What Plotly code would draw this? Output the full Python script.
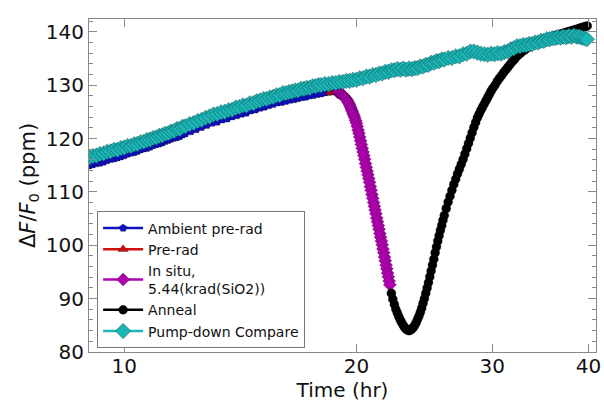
import plotly.graph_objects as go
import math

# ---------------- data ----------------
blue_t = [9.0, 9.1, 9.2, 9.3, 9.4, 9.5, 9.6, 9.7, 9.8, 9.9, 10.0, 10.1, 10.2, 10.3, 10.4, 10.5,
          10.6, 10.7, 10.8, 10.9, 11.0, 11.1, 11.2, 11.3, 11.4, 11.5, 11.6, 11.7, 11.8, 11.9, 12.0,
          12.2, 12.4, 12.6, 12.8, 13.0, 13.2, 13.4, 13.6, 13.8, 14.0, 14.2, 14.4, 14.6,
          14.8, 15.0, 15.2, 15.4, 15.6, 15.8, 16.0, 16.2, 16.4, 16.6, 16.8, 17.0, 17.2, 17.4,
          17.6, 17.8, 18.0, 18.2, 18.4]
blue_v = [114.9, 115.1, 115.3, 115.4, 115.6, 115.9, 116.1, 116.2, 116.4, 116.6, 116.8, 117.1,
          117.3, 117.4, 117.6, 117.9, 118.1, 118.2, 118.4, 118.7, 118.9, 119.0, 119.2, 119.5,
          119.7, 119.9, 120.1, 120.2, 120.4, 120.7, 120.9,
          121.3, 121.7, 122.1, 122.5, 122.9, 123.1, 123.5, 123.7,
          124.1, 124.3, 124.6, 124.8, 125.2, 125.4, 125.7, 125.9, 126.2, 126.4, 126.7, 126.8,
          127.0, 127.2, 127.3, 127.5, 127.7, 127.8, 128.0, 128.1, 128.3, 128.4, 128.6, 128.7]

red_t = [18.5, 18.6, 18.7, 18.8, 18.9]
red_v = [128.6, 128.7, 128.6, 128.7, 128.7]

mag_t = [18.90, 18.95, 19.00, 19.05, 19.10, 19.15, 19.20, 19.25, 19.30, 19.35, 19.40, 19.45,
         19.50, 19.55, 19.60, 19.65, 19.70, 19.75, 19.80, 19.85, 19.90, 19.95, 20.00, 20.05,
         20.10, 20.15, 20.20, 20.25, 20.30, 20.35, 20.40, 20.45, 20.50, 20.55, 20.60, 20.65,
         20.70, 20.75, 20.80, 20.85, 20.90, 20.95, 21.00, 21.05, 21.10, 21.15, 21.20, 21.25,
         21.30, 21.35, 21.40, 21.45, 21.50, 21.55, 21.60, 21.65, 21.70, 21.75, 21.80, 21.85,
         21.90, 21.95, 22.00, 22.05, 22.10]
mag_v = [128.7, 128.7, 128.6, 128.5, 128.4, 128.3, 128.1, 128.0, 127.8, 127.6, 127.4, 127.2,
         126.9, 126.6, 126.3, 125.9, 125.5, 125.1, 124.7, 124.3, 123.9, 123.4, 122.9, 122.3,
         121.6, 121.0, 120.3, 119.6, 118.9, 118.2, 117.5, 116.8, 116.1, 115.3, 114.6, 113.9,
         113.2, 112.5, 111.8, 111.0, 110.3, 109.5, 108.8, 108.0, 107.3, 106.6, 105.9, 105.1,
         104.4, 103.7, 103.0, 102.2, 101.5, 100.8, 100.1, 99.3, 98.6, 97.8, 97.1, 96.3,
         95.6, 94.8, 94.1, 93.3, 92.6]

black_t = [22.2, 22.3, 22.4, 22.5, 22.6, 22.7, 22.8, 22.9, 23.0, 23.1, 23.2, 23.3, 23.4, 23.5,
           23.6, 23.7, 23.8, 23.9, 24.0, 24.1, 24.2, 24.3, 24.4, 24.5, 24.6, 24.7, 24.8, 24.9,
           25.0, 25.1, 25.2, 25.3, 25.4, 25.5, 25.6, 25.7, 25.8, 25.9, 26.0,
           26.15, 26.3, 26.45, 26.6, 26.75, 26.9, 27.05, 27.2, 27.35, 27.5, 27.65, 27.8, 27.95,
           28.1, 28.25, 28.4, 28.55, 28.7, 28.85, 29.0, 29.15, 29.3, 29.45, 29.6, 29.75, 29.9,
           30.05,
           30.25, 30.45, 30.65, 30.85, 31.05, 31.25, 31.45, 31.65, 31.85, 32.05, 32.25, 32.45,
           32.65, 32.85, 33.05, 33.25, 33.45, 33.65, 33.85, 34.05, 34.25, 34.45, 34.65, 34.85,
           35.05, 35.25, 35.45, 35.65, 35.85, 36.05, 36.25, 36.45, 36.65, 36.85, 37.05, 37.25,
           37.45, 37.65, 37.85, 38.05, 38.25, 38.45, 38.65, 38.85, 39.05, 39.25, 39.45, 39.65,
           39.85]
black_v = [91.0, 89.9, 88.9, 88.0, 87.3, 86.6, 86.0, 85.5, 85.0, 84.6, 84.3, 84.1, 84.0, 84.1,
           84.3, 84.6, 85.0, 85.5, 86.1, 86.7, 87.4, 88.2, 89.1, 90.0, 91.0, 92.0, 93.0, 94.1,
           95.2, 96.3, 97.4, 98.6, 99.7, 100.8, 101.8, 102.8, 103.7, 104.7, 105.6,
           106.9, 108.1, 109.2, 110.3, 111.4, 112.4, 113.4, 114.3, 115.2, 116.1, 117.1, 118.1,
           119.1, 120.1, 121.1, 122.1, 123.0, 123.9, 124.6, 125.3, 125.9, 126.5, 127.1, 127.7,
           128.3, 128.9, 129.4,
           130.0, 130.7, 131.3, 131.8, 132.4, 132.9, 133.4, 133.9, 134.4, 134.8, 135.3, 135.7,
           136.0, 136.4, 136.6, 136.9, 137.1, 137.4, 137.6, 137.8, 137.9, 138.1, 138.2, 138.4,
           138.5, 138.7, 138.8, 139.0, 139.1, 139.2, 139.3, 139.4, 139.5, 139.6, 139.7, 139.8,
           139.9, 140.0, 140.1, 140.2, 140.3, 140.4, 140.5, 140.6, 140.7, 140.8, 140.9, 141.0,
           141.1]

cyan_points = [
    (9.0, 116.4), (9.1, 116.7), (9.2, 116.8), (9.3, 117.1), (9.4, 117.2), (9.5, 117.5),
    (9.6, 117.6), (9.7, 117.9), (9.8, 117.9), (9.9, 118.2), (10.0, 118.3), (10.1, 118.6),
    (10.2, 118.6), (10.3, 118.9), (10.4, 119.0), (10.5, 119.3), (10.6, 119.4), (10.7, 119.7),
    (10.8, 119.8), (10.9, 120.1), (11.0, 120.2), (11.1, 120.5), (11.2, 120.6), (11.3, 120.9),
    (11.4, 121.0), (11.5, 121.3), (11.6, 121.4), (11.7, 121.8), (11.8, 121.8), (11.9, 122.2),
    (12.0, 122.3),
    (12.15, 122.7), (12.3, 122.9), (12.45, 123.3), (12.6, 123.5), (12.75, 123.9), (12.9, 124.1),
    (13.05, 124.5), (13.2, 124.6), (13.35, 124.9), (13.5, 125.0), (13.65, 125.3), (13.8, 125.4),
    (13.95, 125.8), (14.1, 125.9), (14.25, 126.2), (14.4, 126.2), (14.55, 126.6), (14.7, 126.6),
    (14.85, 127.0), (15.0, 127.1), (15.15, 127.4), (15.3, 127.4), (15.45, 127.7), (15.6, 127.8),
    (15.75, 128.1), (15.9, 128.1), (16.05, 128.5), (16.2, 128.5), (16.35, 128.7), (16.5, 128.8),
    (16.65, 129.0), (16.8, 129.0), (16.95, 129.3), (17.1, 129.3), (17.25, 129.5), (17.4, 129.5),
    (17.55, 129.8), (17.7, 129.8), (17.85, 130.0), (18.0, 130.0),
    (18.2, 130.2), (18.4, 130.2), (18.6, 130.4), (18.8, 130.4), (19.0, 130.6), (19.2, 130.6),
    (19.4, 130.8), (19.6, 130.8), (19.8, 131.0), (20.0, 131.0), (20.2, 131.3), (20.4, 131.3),
    (20.6, 131.6), (20.8, 131.6), (21.0, 131.9), (21.2, 131.9), (21.4, 132.2), (21.6, 132.2),
    (21.8, 132.5), (22.0, 132.5), (22.2, 132.8), (22.4, 132.8), (22.6, 133.0), (22.8, 132.9),
    (23.0, 133.1), (23.2, 132.9), (23.4, 133.1), (23.6, 133.0), (23.8, 133.2), (24.0, 133.2),
    (24.2, 133.5), (24.4, 133.5), (24.6, 133.8), (24.8, 133.8), (25.0, 134.2), (25.2, 134.2),
    (25.4, 134.5), (25.6, 134.5), (25.8, 134.8), (26.0, 134.8),
    (26.3, 135.1), (26.6, 135.1), (26.9, 135.4), (27.2, 135.4), (27.5, 135.8), (27.8, 135.9),
    (28.1, 136.3), (28.4, 136.3), (28.7, 136.1), (29.0, 135.9), (29.3, 135.8), (29.6, 135.7),
    (29.9, 135.9), (30.2, 135.8), (30.5, 136.0), (30.8, 135.9), (31.1, 136.2), (31.4, 136.3),
    (31.7, 136.7), (32.0, 136.9), (32.3, 137.3), (32.6, 137.3), (32.9, 137.5), (33.2, 137.5),
    (33.5, 137.7), (33.8, 137.7), (34.1, 138.0), (34.4, 138.0), (34.7, 138.3), (35.0, 138.3),
    (35.3, 138.6), (35.6, 138.6), (35.9, 138.8), (36.2, 138.8), (36.5, 139.0), (36.8, 138.9),
    (37.1, 139.1), (37.4, 139.0), (37.7, 139.2), (38.0, 139.1), (38.3, 139.3), (38.6, 139.1),
    (38.9, 139.1), (39.2, 138.9), (39.5, 138.8), (39.8, 138.6),
]
cyan_t = [p[0] for p in cyan_points]
cyan_v = [p[1] for p in cyan_points]

x_ticks = [10, 20, 30, 40]
y_ticks = [80, 90, 100, 110, 120, 130, 140]

FONT = "DejaVu Sans"
edge = dict(color="rgba(0,0,0,0.55)", width=0.5)

fig = go.Figure()
fig.add_trace(go.Scatter(x=blue_t, y=blue_v, mode="lines+markers", name="Ambient pre-rad",
                         line=dict(color="#1010c0", width=2.5),
                         marker=dict(symbol="pentagon", size=8, color="#1010c0", line=edge)))
fig.add_trace(go.Scatter(x=red_t, y=red_v, mode="lines+markers", name="Pre-rad",
                         line=dict(color="#d01010", width=2.5),
                         marker=dict(symbol="triangle-up", size=9, color="#d01010", line=edge)))
fig.add_trace(go.Scatter(x=mag_t, y=mag_v, mode="lines+markers",
                         name="In situ,<br>5.44(krad(SiO2))",
                         line=dict(color="#b000b0", width=2.5),
                         marker=dict(symbol="diamond", size=10, color="#b000b0", line=edge)))
fig.add_trace(go.Scatter(x=black_t, y=black_v, mode="lines+markers", name="Anneal",
                         line=dict(color="#000000", width=2.5),
                         marker=dict(symbol="circle", size=9, color="#000000", line=edge)))
fig.add_trace(go.Scatter(x=cyan_t, y=cyan_v, mode="lines+markers", name="Pump-down Compare",
                         line=dict(color="#1cb4b4", width=2.5),
                         marker=dict(symbol="diamond", size=12, color="#1cb4b4", line=edge)))

axcol = "#8a8a8a"
fig.update_layout(
    width=604, height=405,
    margin=dict(l=89, r=3, t=19, b=53),
    paper_bgcolor="white", plot_bgcolor="white",
    font=dict(family=FONT, size=20, color="#111111"),
    showlegend=True,
    legend=dict(x=0.016, y=0.422, xanchor="left", yanchor="top",
                bgcolor="white", bordercolor="#777777", borderwidth=1,
                font=dict(family=FONT, size=14, color="#111111"),
                tracegroupgap=0, itemwidth=40),
    xaxis=dict(type="log", range=[math.log10(9.0), math.log10(40.9)],
               tickvals=x_ticks, ticktext=[str(v) for v in x_ticks],
               ticklabeloverflow="allow", ticklabelstandoff=-4,
               ticks="inside", ticklen=8, tickcolor=axcol, showline=True, linecolor=axcol,
               linewidth=1, mirror="ticks", showgrid=False, zeroline=False,
               tickfont=dict(size=20),
               title=dict(text="Time (hr)", standoff=0, font=dict(size=20))),
    yaxis=dict(range=[80, 142.4], tickvals=y_ticks,
               ticks="inside", ticklen=8, tickcolor=axcol, showline=True, linecolor=axcol,
               linewidth=1, mirror="ticks", showgrid=False, zeroline=False,
               tickfont=dict(size=20),
               minor=dict(dtick=2, ticks="inside", ticklen=4, tickcolor=axcol, showgrid=False),
               title=dict(text="Δ<i>F</i>/<i>F</i><sub>0</sub> (ppm)", standoff=4,
                          font=dict(size=21))),
)

fig.write_html("out.html")
